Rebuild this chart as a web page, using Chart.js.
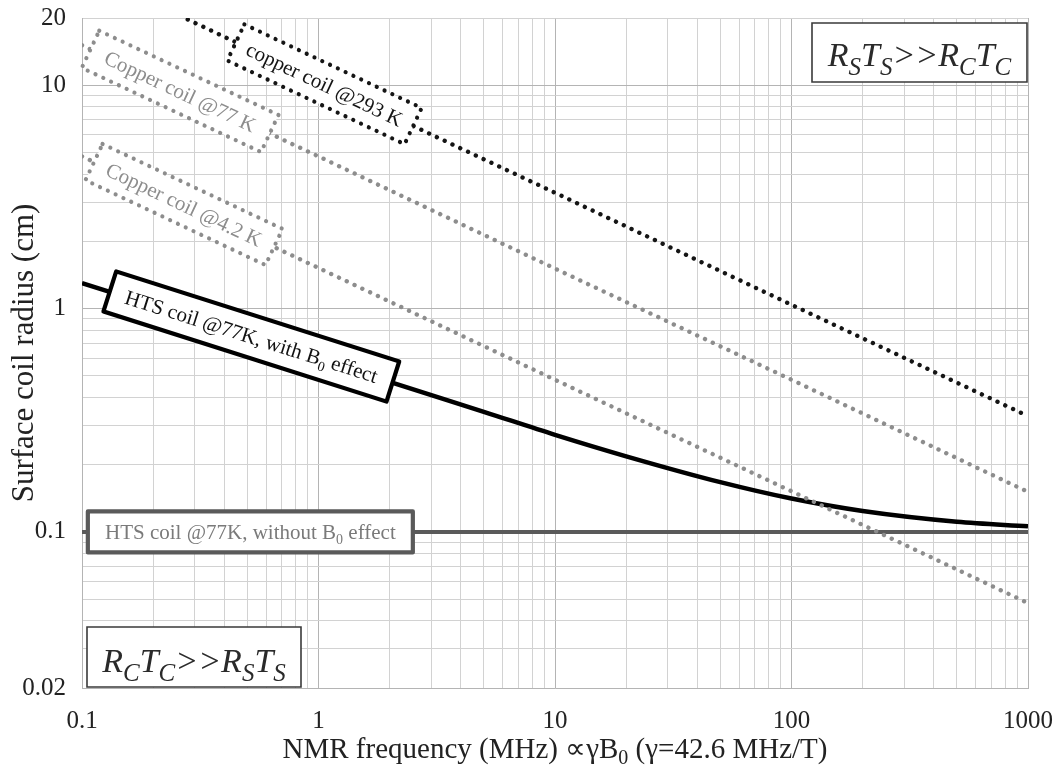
<!DOCTYPE html>
<html><head><meta charset="utf-8">
<script src="https://cdn.jsdelivr.net/npm/chart.js@4.4.1/dist/chart.umd.min.js"></script>
<style>html,body{margin:0;padding:0;background:#fff;}canvas{display:block;}</style>
</head><body>
<canvas id="c" width="1059" height="773" style="width:1059px;height:773px"></canvas>
<script>
// ---------------- data ----------------
const freq293K = [0.28, 1, 10, 100, 1000];
const radius293K = [19.7, 10.4, 3.3, 1.04, 0.33];
const freqCopper = [0.1, 1, 10, 100, 1000];
const radius77K = [15.1, 4.8, 1.51, 0.48, 0.151];
const radius4K = [4.8, 1.52, 0.48, 0.152, 0.048];
const freqHTS = [0.1, 0.2, 0.5, 1, 2, 5, 10, 20, 50, 100, 200, 500, 1000];
const radiusHTSwithB0 = [1.3, 1.03, 0.76, 0.60, 0.47, 0.345, 0.272, 0.218, 0.167, 0.141, 0.124, 0.111, 0.106];
const freqFlat = [0.1, 1000];
const radiusHTSnoB0 = [0.1, 0.1];

const seriesNames = ['copper coil @293 K', 'Copper coil @77 K', 'Copper coil @4.2 K',
  'HTS coil @77K, with B{0} effect', 'HTS coil @77K, without B{0} effect'];
const regimeLabels = ['R{S}T{S}>>R{C}T{C}', 'R{C}T{C}>>R{S}T{S}'];
const xTitle = 'NMR frequency (MHz) \u221D\u03B3B{0} (\u03B3=42.6 MHz/T)';
const yTitle = 'Surface coil radius (cm)';

const xTickLabels = [0.1, 1, 10, 100, 1000];
const yTickLabels = [0.02, 0.1, 1, 10, 20];
const xGridValues = [0.1,0.2,0.3,0.4,0.5,0.6,0.7,0.8,0.9,1,2,3,4,5,6,7,8,9,10,20,30,40,50,60,70,80,90,100,200,300,400,500,600,700,800,900,1000];
const yGridValues = [0.02,0.03,0.04,0.05,0.06,0.07,0.08,0.09,0.1,0.2,0.3,0.4,0.5,0.6,0.7,0.8,0.9,1,2,3,4,5,6,7,8,9,10,20];

// ---------------- helpers ----------------
const FONT = "'Liberation Serif', 'Times New Roman', serif";
const pts = (xs, ys) => xs.map((x, i) => ({x, y: ys[i]}));
const isIn = (v, list) => list.some(l => Math.abs(Math.log10(v) - Math.log10(l)) < 1e-6);

function parseRuns(s) {
  const runs = []; const re = /\{([^}]*)\}|([^{]+)/g; let m;
  while ((m = re.exec(s))) runs.push(m[1] !== undefined ? {t: m[1], sub: true} : {t: m[2], sub: false});
  return runs;
}
function drawRich(ctx, s, x, y, o) {
  const runs = parseRuns(s);
  let w = 0;
  runs.forEach(r => { ctx.font = r.sub ? o.sub : o.main; r.w = ctx.measureText(r.t).width; w += r.w; });
  let xx = x - w / 2;
  ctx.textBaseline = 'alphabetic'; ctx.textAlign = 'left';
  runs.forEach(r => { ctx.font = r.sub ? o.sub : o.main; ctx.fillText(r.t, xx, y + (r.sub ? o.shift : 0)); xx += r.w; });
  return w;
}
function interpLL(data, f) {
  const lf = Math.log10(f);
  let i = 0;
  while (i < data.length - 2 && Math.log10(data[i + 1].x) < lf) i++;
  const a = Math.log10(data[i].x), b = Math.log10(data[i + 1].x);
  const ya = Math.log10(data[i].y), yb = Math.log10(data[i + 1].y);
  return Math.pow(10, ya + (yb - ya) * (lf - a) / (b - a));
}

// label box styles (position along each series given as a frequency)
const boxStyles = [
  {ds: 0, at: 1.06, len: 196, thick: 40, stroke: '#151515', dash: [0.01, 8.6], lw: 4.2, color: '#151515'},
  {ds: 1, at: 0.26, len: 198, thick: 41, stroke: '#8d8d8d', dash: [0.01, 8.6], lw: 4.2, color: '#8d8d8d'},
  {ds: 2, at: 0.27, len: 199, thick: 40, stroke: '#8d8d8d', dash: [0.01, 8.6], lw: 4.2, color: '#8d8d8d'},
  {ds: 3, at: 0.52, len: 297, thick: 42, stroke: '#000000', dash: [], lw: 4.2, color: '#111111'},
  {ds: 4, at: 0.515, len: 325, thick: 41, stroke: '#5a5a5a', dash: [], lw: 4.2, color: '#7a7a7a'}
];

const annotationPlugin = {
  id: 'annot',
  afterDatasetsDraw(chart) {
    const {ctx, chartArea: ca, scales: {x, y}} = chart;
    ctx.save();
    boxStyles.forEach((b, i) => {
      const data = chart.data.datasets[b.ds].data;
      const cx = x.getPixelForValue(b.at), cy = y.getPixelForValue(interpLL(data, b.at));
      const x1 = x.getPixelForValue(b.at / 1.4), y1 = y.getPixelForValue(interpLL(data, b.at / 1.4));
      const x2 = x.getPixelForValue(b.at * 1.4), y2 = y.getPixelForValue(interpLL(data, b.at * 1.4));
      const ang = Math.atan2(y2 - y1, x2 - x1);
      ctx.save();
      ctx.translate(cx, cy); ctx.rotate(ang);
      ctx.beginPath(); ctx.rect(-b.len / 2, -b.thick / 2, b.len, b.thick);
      ctx.fillStyle = '#fff'; ctx.fill();
      ctx.setLineDash(b.dash); ctx.lineCap = 'round'; ctx.lineJoin = 'round';
      ctx.lineWidth = b.lw; ctx.strokeStyle = b.stroke; ctx.stroke();
      ctx.setLineDash([]);
      ctx.fillStyle = b.color;
      drawRich(ctx, seriesNames[i], 0, 7, {main: `21px ${FONT}`, sub: `14px ${FONT}`, shift: 5});
      ctx.restore();
    });
    const drawRegime = (s, left, top, w, h, base) => {
      ctx.beginPath(); ctx.rect(left, top, w, h);
      ctx.fillStyle = '#fff'; ctx.fill();
      ctx.lineWidth = 1.6; ctx.strokeStyle = '#3a3a3a'; ctx.stroke();
      ctx.fillStyle = '#2a2a2a';
      drawRich(ctx, s, left + w / 2, top + base, {main: `italic 34px ${FONT}`, sub: `italic 25px ${FONT}`, shift: 9});
    };
    drawRegime(regimeLabels[0], ca.right - 216, ca.top + 5, 215, 59, 43);
    drawRegime(regimeLabels[1], ca.left + 5, ca.bottom - 61, 214, 60, 45);
    ctx.restore();
  },
  afterDraw(chart) {
    const {ctx, chartArea: ca} = chart;
    ctx.save();
    ctx.fillStyle = '#222';
    drawRich(ctx, xTitle, (ca.left + ca.right) / 2, 758, {main: `29px ${FONT}`, sub: `20px ${FONT}`, shift: 6});
    ctx.translate(33, (ca.top + ca.bottom) / 2); ctx.rotate(-Math.PI / 2);
    ctx.font = `31px ${FONT}`; ctx.textAlign = 'center'; ctx.textBaseline = 'alphabetic';
    ctx.fillText(yTitle, 0, 0);
    ctx.restore();
  }
};

const dotted = (color) => ({borderColor: color, borderWidth: 4.4, borderDash: [0.01, 8.6], borderCapStyle: 'round'});
const noPad = s => { s.paddingTop = 0; s.paddingBottom = 0; s.paddingLeft = 0; s.paddingRight = 0; };

new Chart(document.getElementById('c'), {
  type: 'line',
  data: {
    datasets: [
      {label: seriesNames[0], data: pts(freq293K, radius293K), ...dotted('#151515')},
      {label: seriesNames[1], data: pts(freqCopper, radius77K), ...dotted('#8d8d8d')},
      {label: seriesNames[2], data: pts(freqCopper, radius4K), ...dotted('#8d8d8d')},
      {label: seriesNames[3], data: pts(freqHTS, radiusHTSwithB0), borderColor: '#000', borderWidth: 4.5, cubicInterpolationMode: 'monotone'},
      {label: seriesNames[4], data: pts(freqFlat, radiusHTSnoB0), borderColor: '#5a5a5a', borderWidth: 4}
    ]
  },
  options: {
    responsive: false, animation: false, devicePixelRatio: 1,
    layout: {padding: {top: 18, right: 31, bottom: 0, left: 0}},
    elements: {point: {radius: 0}, line: {fill: false}},
    plugins: {legend: {display: false}, tooltip: {enabled: false}},
    scales: {
      x: {
        type: 'logarithmic', min: 0.1, max: 1000,
        afterBuildTicks: s => { s.ticks = xGridValues.map(v => ({value: v})); },
        afterFit: s => { s.height = 85; noPad(s); },
        ticks: {autoSkip: false, maxRotation: 0, padding: 18, color: '#222', font: {family: FONT, size: 25},
          callback: v => isIn(v, xTickLabels) ? String(xTickLabels.find(l => isIn(v, [l]))) : ''},
        grid: {drawTicks: false, lineWidth: 1,
          color: c => isIn(c.tick.value, xTickLabels) ? '#b4b4b4' : '#d2d2d2'},
        border: {color: '#b4b4b4'}
      },
      y: {
        type: 'logarithmic', min: 0.02, max: 20,
        afterBuildTicks: s => { s.ticks = yGridValues.map(v => ({value: v})); },
        afterFit: s => { s.width = 82; noPad(s); },
        ticks: {autoSkip: false, padding: 16, color: '#222', font: {family: FONT, size: 25},
          callback: v => isIn(v, yTickLabels) ? String(yTickLabels.find(l => isIn(v, [l]))) : ''},
        grid: {drawTicks: false, lineWidth: 1,
          color: c => isIn(c.tick.value, [0.1, 1, 10]) ? '#b4b4b4' : '#d2d2d2'},
        border: {color: '#b4b4b4'}
      }
    }
  },
  plugins: [annotationPlugin]
});
</script>
</body></html>
